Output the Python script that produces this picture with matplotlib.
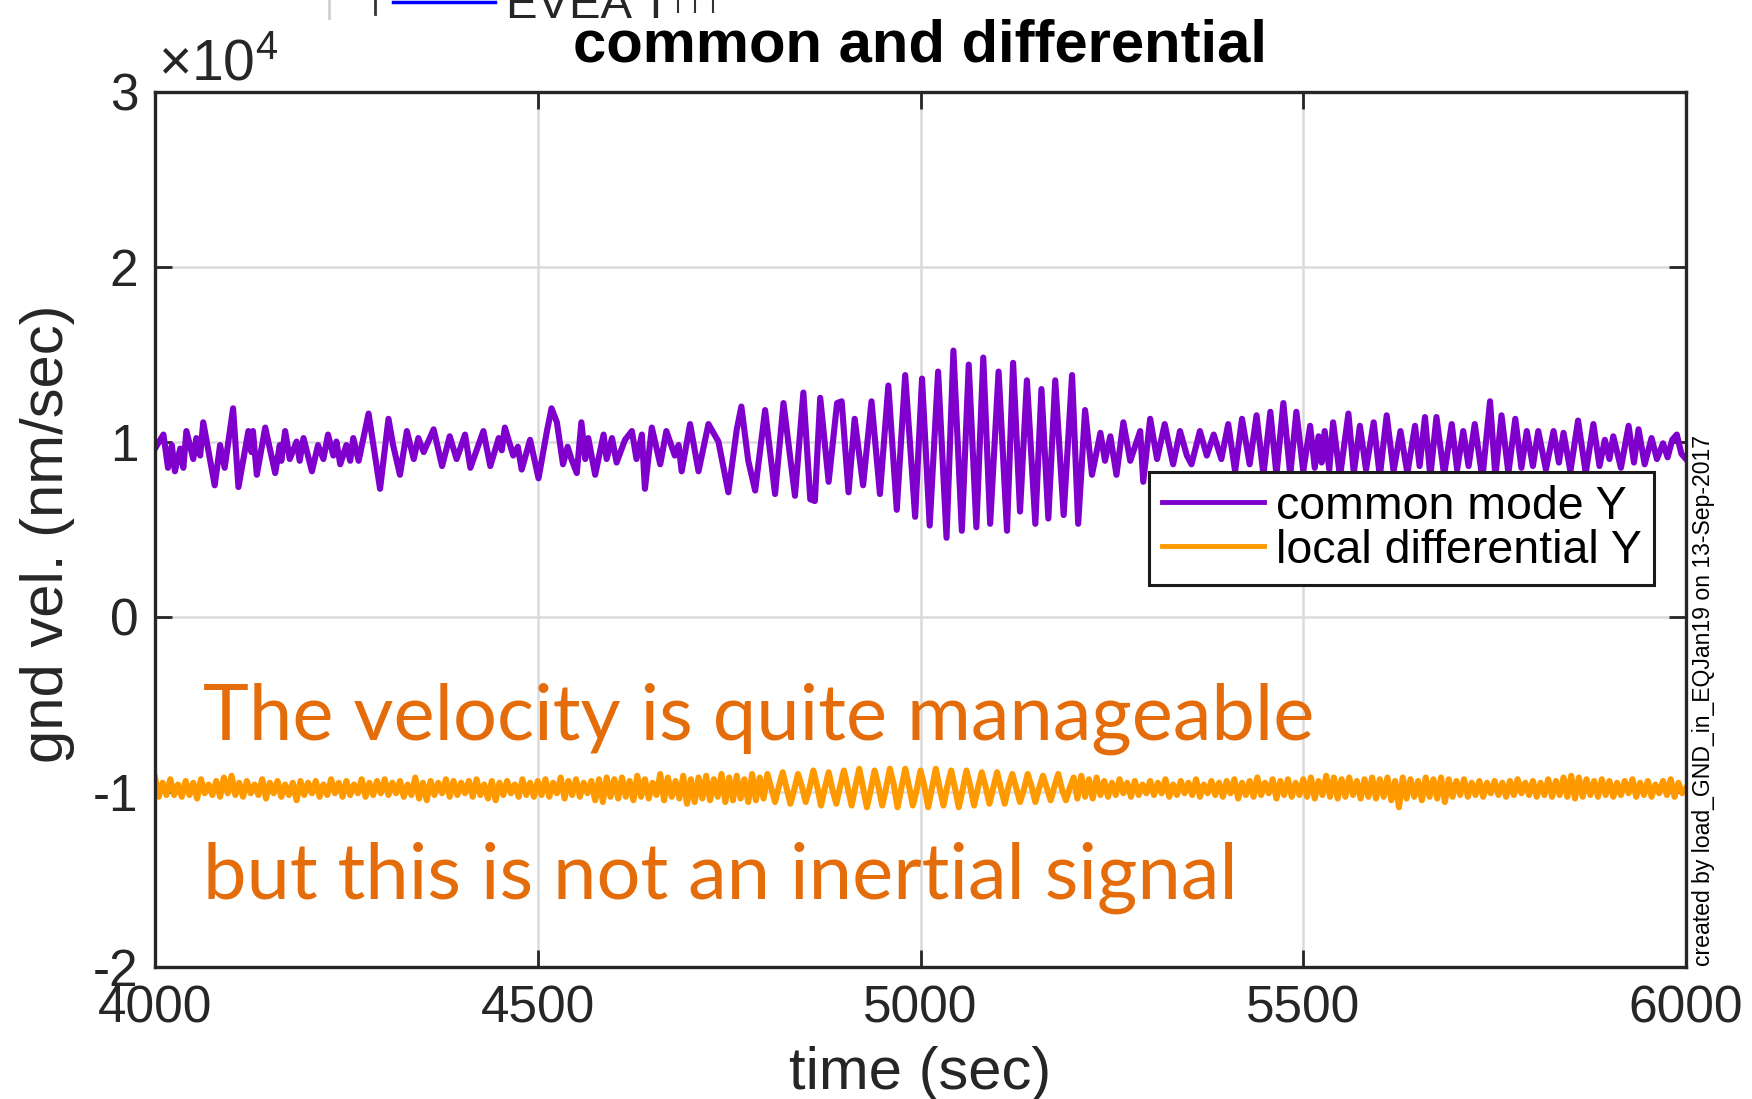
import numpy as np
import matplotlib
matplotlib.use("Agg")
import matplotlib.pyplot as plt
from matplotlib.lines import Line2D

plt.rcParams['font.family'] = ['Liberation Sans', 'DejaVu Sans']
plt.rcParams['axes.unicode_minus'] = False
plt.rcParams['mathtext.fontset'] = 'custom'
plt.rcParams['mathtext.rm'] = 'Liberation Sans'
plt.rcParams['mathtext.it'] = 'Liberation Sans'

# ---------------- data (values in units of 1e4 nm/sec) ----------------
common_t = [4000, 4011, 4017, 4022, 4026, 4033, 4037, 4041, 4050, 4054, 4059, 4063, 4078, 4085, 4091,
            4102, 4109, 4122, 4126, 4128, 4133, 4144, 4150, 4157, 4163, 4165, 4170, 4176, 4185, 4189,
            4194, 4205, 4213, 4220, 4226, 4233, 4237, 4242, 4250, 4255, 4259, 4266, 4279, 4294, 4305,
            4311, 4320, 4329, 4338, 4344, 4351, 4364, 4375, 4385, 4394, 4405, 4412, 4429, 4438, 4449,
            4453, 4457, 4468, 4474, 4479, 4490, 4501,
            4512, 4518, 4525, 4533, 4539, 4544, 4551, 4557, 4562, 4566, 4575, 4586, 4590, 4597, 4603,
            4614, 4623, 4629, 4636, 4640, 4649, 4660, 4668, 4679, 4684, 4688, 4699, 4710, 4723, 4736,
            4749, 4760, 4766, 4775, 4784, 4797, 4810, 4821, 4836, 4847, 4856, 4862, 4869, 4880, 4891,
            4897, 4906, 4914, 4925, 4936, 4947, 4958, 4969, 4980, 4993, 5002,
            5012, 5023, 5034, 5043, 5054, 5063, 5073, 5082, 5091, 5102, 5113, 5121, 5130, 5139, 5150,
            5158, 5167, 5176, 5187, 5198, 5206, 5215, 5224, 5235, 5241, 5248, 5256, 5265, 5274, 5287,
            5291, 5300, 5309, 5319, 5330, 5339, 5348, 5354, 5365, 5374, 5383, 5393, 5402, 5411, 5420,
            5430, 5439, 5448, 5457, 5465, 5474, 5483, 5491,
            5500, 5509, 5515, 5520, 5524, 5528, 5534, 5539, 5548, 5559, 5566, 5574, 5582, 5592, 5600,
            5609, 5618, 5627, 5636, 5646, 5652, 5659, 5666, 5674, 5684, 5694, 5701, 5709, 5716, 5724,
            5734, 5744, 5751, 5759, 5768, 5777, 5785, 5792, 5800, 5807, 5817, 5827, 5834, 5840, 5849,
            5859, 5869, 5879, 5887, 5894, 5900, 5905, 5915, 5925, 5932, 5938, 5946, 5955, 5962, 5970,
            5976, 5982, 5988, 5994, 6000]
common_v = [0.96, 1.04, 0.85, 0.98, 0.83, 0.96, 0.85, 1.06, 0.90, 1.02, 0.92, 1.11, 0.75, 0.98, 0.85,
            1.19, 0.74, 1.06, 0.94, 1.06, 0.81, 1.08, 0.96, 0.82, 0.98, 0.89, 1.06, 0.90, 1.00, 0.89,
            1.02, 0.83, 0.98, 0.90, 1.04, 0.92, 1.00, 0.87, 0.98, 0.89, 1.02, 0.89, 1.16, 0.73, 1.13,
            0.98, 0.81, 1.06, 0.90, 1.02, 0.94, 1.07, 0.86, 1.03, 0.90, 1.04, 0.85, 1.06, 0.86, 1.02,
            0.95, 1.08, 0.92, 0.97, 0.84, 1.01, 0.79,
            1.06, 1.19, 1.11, 0.87, 0.97, 0.90, 0.82, 1.11, 0.90, 1.02, 0.81, 1.04, 0.90, 1.02, 0.88,
            1.01, 1.06, 0.90, 1.04, 0.73, 1.08, 0.87, 1.06, 0.92, 0.98, 0.83, 1.10, 0.83, 1.10, 1.00,
            0.71, 1.07, 1.20, 0.89, 0.72, 1.18, 0.70, 1.22, 0.69, 1.28, 0.67, 0.66, 1.25, 0.77, 1.22,
            1.23, 0.71, 1.13, 0.75, 1.23, 0.70, 1.32, 0.61, 1.38, 0.57, 1.36,
            0.52, 1.40, 0.45, 1.52, 0.49, 1.44, 0.51, 1.48, 0.53, 1.40, 0.49, 1.45, 0.60, 1.35, 0.53,
            1.30, 0.56, 1.35, 0.58, 1.38, 0.53, 1.18, 0.81, 1.05, 0.89, 1.03, 0.81, 1.11, 0.89, 1.06,
            0.77, 1.13, 0.90, 1.10, 0.87, 1.06, 0.92, 0.87, 1.06, 0.92, 1.04, 0.90, 1.10, 0.83, 1.13,
            0.87, 1.15, 0.81, 1.17, 0.81, 1.22, 0.81, 1.17,
            0.83, 1.09, 0.85, 1.03, 0.88, 1.06, 0.84, 1.11, 0.80, 1.16, 0.82, 1.09, 0.84, 1.11, 0.80,
            1.15, 0.83, 1.06, 0.82, 1.09, 0.86, 1.14, 0.80, 1.14, 0.81, 1.10, 0.84, 1.06, 0.86, 1.10,
            0.79, 1.23, 0.80, 1.15, 0.82, 1.13, 0.85, 1.06, 0.86, 1.06, 0.84, 1.06, 0.88, 1.05, 0.83,
            1.12, 0.82, 1.10, 0.86, 1.01, 0.90, 1.03, 0.85, 1.09, 0.88, 1.07, 0.87, 1.02, 0.90, 0.99,
            0.91, 1.01, 1.04, 0.93, 0.90]

diff_t = np.arange(4000, 6001, 5)
diff_v = [
    -0.92, -1.03, -0.95, -1.02, -0.93, -1.02, -0.96, -1.03, -0.94, -1.02, -0.95, -1.04, -0.93, -1.01, -0.96, -1.02, -0.94, -1.03, -0.92, -1.01,
    -0.91, -1.02, -0.95, -1.03, -0.94, -1.01, -0.96, -1.02, -0.93, -1.04, -0.95, -1.01, -0.94, -1.03, -0.96, -1.02, -0.95, -1.05, -0.94, -1.02,
    -0.95, -1.01, -0.94, -1.03, -0.96, -1.02, -0.93, -1.01, -0.95, -1.03, -0.94, -1.02, -0.96, -1.01, -0.93, -1.03, -0.95, -1.02, -0.94, -1.01,
    -0.93, -1.02, -0.95, -1.01, -0.94, -1.03, -0.96, -1.02, -0.92, -1.04, -0.95, -1.05, -0.94, -1.02, -0.95, -1.01, -0.93, -1.03, -0.94, -1.02,
    -0.95, -1.01, -0.94, -1.03, -0.93, -1.02, -0.96, -1.04, -0.94, -1.05, -0.95, -1.02, -0.94, -1.01, -0.96, -1.03, -0.93, -1.02, -0.95, -1.03,
    -0.94, -1.02, -0.93, -1.03, -0.95, -1.01, -0.92, -1.04, -0.94, -1.02, -0.93, -1.03, -0.95, -1.01, -0.94, -1.05, -0.93, -1.06, -0.92, -1.03,
    -0.93, -1.04, -0.92, -1.03, -0.94, -1.05, -0.91, -1.03, -0.93, -1.04, -0.95, -1.02, -0.90, -1.05, -0.92, -1.03, -0.94, -1.04, -0.91, -1.07,
    -0.93, -1.06, -0.92, -1.04, -0.91, -1.05, -0.93, -1.03, -0.90, -1.06, -0.92, -1.05, -0.91, -1.04, -0.93, -1.06, -0.90, -1.05, -0.92, -1.04,
    -0.90, -0.98, -1.06, -0.97, -0.89, -0.98, -1.07, -0.99, -0.90, -0.97, -1.06, -0.98, -0.88, -0.97, -1.08, -0.98, -0.89, -0.99, -1.07, -0.97,
    -0.88, -0.98, -1.08, -0.97, -0.87, -0.98, -1.09, -0.99, -0.88, -0.97, -1.08, -0.98, -0.87, -0.96, -1.09, -0.98, -0.87, -0.97, -1.08, -0.99,
    -0.88, -0.97, -1.09, -0.98, -0.87, -0.98, -1.08, -0.97, -0.88, -0.98, -1.09, -0.99, -0.88, -0.97, -1.08, -0.98, -0.89, -0.97, -1.07, -0.98,
    -0.89, -0.98, -1.07, -0.97, -0.90, -0.98, -1.06, -0.99, -0.90, -0.97, -1.06, -0.98, -0.91, -0.98, -1.05, -0.97, -0.90, -0.99, -1.05, -0.98,
    -0.92, -1.04, -0.91, -1.03, -0.93, -1.04, -0.92, -1.02, -0.94, -1.03, -0.95, -1.02, -0.93, -1.01, -0.95, -1.03, -0.94, -1.02, -0.96, -1.01,
    -0.94, -1.02, -0.95, -1.01, -0.93, -1.03, -0.96, -1.02, -0.94, -1.01, -0.95, -1.02, -0.93, -1.03, -0.96, -1.01, -0.94, -1.02, -0.95, -1.03,
    -0.94, -1.01, -0.93, -1.04, -0.95, -1.02, -0.94, -1.03, -0.92, -1.02, -0.95, -1.01, -0.93, -1.04, -0.94, -1.02, -0.93, -1.03, -0.95, -1.02,
    -0.93, -1.03, -0.92, -1.04, -0.94, -1.02, -0.91, -1.03, -0.92, -1.04, -0.93, -1.03, -0.92, -1.02, -0.94, -1.04, -0.93, -1.03, -0.92, -1.04,
    -0.93, -1.03, -0.92, -1.05, -0.94, -1.09, -0.92, -1.04, -0.93, -1.03, -0.94, -1.05, -0.92, -1.03, -0.93, -1.04, -0.92, -1.06, -0.93, -1.03,
    -0.94, -1.02, -0.93, -1.03, -0.95, -1.02, -0.94, -1.03, -0.95, -1.01, -0.94, -1.02, -0.95, -1.03, -0.94, -1.02, -0.93, -1.01, -0.95, -1.02,
    -0.94, -1.03, -0.95, -1.02, -0.93, -1.03, -0.94, -1.02, -0.92, -1.03, -0.91, -1.04, -0.92, -1.03, -0.93, -1.02, -0.94, -1.03, -0.93, -1.02,
    -0.94, -1.03, -0.95, -1.02, -0.94, -1.01, -0.93, -1.03, -0.95, -1.02, -0.94, -1.03, -0.96, -1.01, -0.94, -1.02, -0.93, -1.03, -0.95, -1.01,
    -0.98]

x_ticks = [4000, 4500, 5000, 5500, 6000]
y_ticks = [-2, -1, 0, 1, 2, 3]
series_labels = ['common mode Y', 'local differential Y']
note_lines = ['The velocity is quite manageable', 'but this is not an inertial signal']

# ---------------- figure ----------------
W, H = 1752, 1099
fig = plt.figure(figsize=(W / 100, H / 100), dpi=100)
ax = fig.add_axes([155 / W, 1 - 966.5 / H, (1686 - 155) / W, (966.5 - 91.6) / H])

ax.plot(common_t, common_v, color='#7F00CC', lw=4.4, label=series_labels[0])
ax.plot(diff_t, diff_v, color='#FF9900', lw=4.4, label=series_labels[1])

ax.set_xlim(4000, 6000)
ax.set_ylim(-2, 3)
ax.set_xticks(x_ticks)
ax.set_yticks(y_ticks)
ax.set_xticklabels([str(v) for v in x_ticks])
ax.set_yticklabels([str(v) for v in y_ticks])
ax.grid(True, color='#DADADA', lw=1.8)
ax.set_axisbelow(True)
for s in ax.spines.values():
    s.set_linewidth(2.4)
    s.set_color('#262626')
ax.tick_params(direction='in', length=12, width=2, top=True, right=True,
               labelsize=37, colors='#262626', labelcolor='#262626')
ax.tick_params(axis='x', pad=13)
ax.tick_params(axis='y', pad=12)

ax.set_xlabel('time (sec)', fontsize=43, color='#262626')
ax.xaxis.set_label_coords(0.5, -0.091)
ax.set_ylabel('gnd vel. (nm/sec)', fontsize=43, color='#262626')
ax.yaxis.set_label_coords(-0.052, 0.495)

fig.text(920 / W, 1 - 61 / H, 'common and differential', fontsize=43, fontweight='bold',
         ha='center', va='baseline', color='black')
fig.text(158 / W, 1 - 80 / H, r'$\times10^{4}$', fontsize=41, ha='left', va='baseline', color='#262626')

for txt, yv in zip(note_lines, [-0.706, -1.614]):
    ax.text(4063, yv, txt, fontsize=56, family=['Lato', 'DejaVu Sans'], color='#E46C0A',
            ha='left', va='baseline')

leg = ax.legend(loc='upper right', bbox_to_anchor=(0.979, 0.565), borderaxespad=0,
                fontsize=33.5, handlelength=2.2, handletextpad=0.25, labelspacing=0.0,
                borderpad=0.27, fancybox=False, framealpha=1, edgecolor='#1a1a1a')
leg.get_frame().set_linewidth(2.2)
for h in leg.get_lines():
    h.set_linewidth(3.5)

ax.text(1.004, 0.0, 'created by load_GND_in_EQJan19 on 13-Sep-2017', transform=ax.transAxes,
        rotation=90, ha='left', va='bottom', fontsize=16.6, color='black')

# clipped remnant of another figure's legend at the very top
fig.add_artist(Line2D([329 / W, 329 / W], [1, 1 - 18 / H], color='#D0D0D0', lw=2))
fig.add_artist(Line2D([375 / W, 375 / W], [1, 1 - 14 / H], color='#333333', lw=2))
fig.add_artist(Line2D([393 / W, 495 / W], [1 - 1.5 / H, 1 - 1.5 / H], color='#0000FF', lw=2.5))
fig.text(506 / W, 1 - 18 / H, 'EVEA T', fontsize=34, family=['Liberation Sans Narrow', 'Liberation Sans'],
         ha='left', va='baseline', color='#262626')
for xp in [678, 695, 713]:
    fig.add_artist(Line2D([xp / W, xp / W], [1, 1 - 12 / H], color='#333333', lw=1.5))

fig.savefig('out.png', dpi=100)
